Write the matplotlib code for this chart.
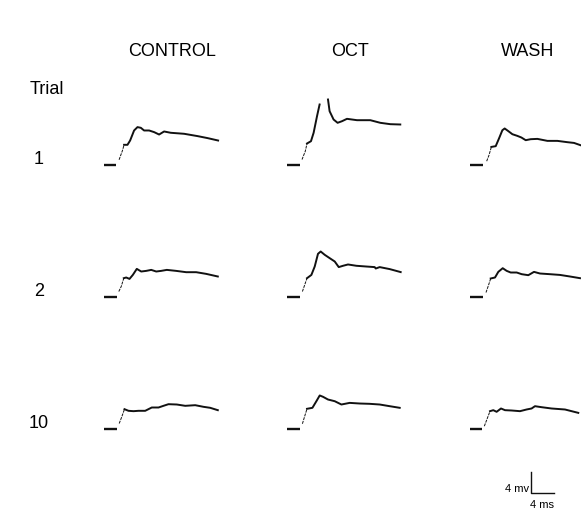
import numpy as np
import matplotlib
matplotlib.use("Agg")
import matplotlib.pyplot as plt

nan = np.nan

# conditions and trials
conditions = ["CONTROL", "OCT", "WASH"]
trials = ["1", "2", "10"]

# traces: time (ms) from start of sweep, voltage (mV) above baseline
ctrl1_t = [0, 2.14, 2.71, 3.30, 3.58, 4.17, 4.63, 5.32, 5.91, 6.49, 7.06, 7.93, 8.80, 9.67, 10.54, 11.70, 14.02, 16.35, 18.09, 19.93]
ctrl1_v = [0, 0, 0.90, 2.67, 3.75, 3.75, 4.57, 6.48, 7.12, 6.99, 6.48, 6.48, 6.17, 5.71, 6.29, 6.04, 5.85, 5.41, 5.03, 4.57]

oct1_t = [0, 2.19, 2.61, 3.18, 3.48, 4.17, 4.63, 5.22, 5.67, 6.40, 7.13, 7.41, 8.10, 8.80, 9.57, 10.43, 12.17, 14.49, 16.23, 17.97, 19.70]
oct1_v = [0, 0, 0.95, 2.53, 4.00, 4.44, 6.04, 9.20, 11.43, nan, 12.38, 10.15, 8.57, 7.94, 8.25, 8.70, 8.44, 8.44, 7.94, 7.68, 7.62]

wash1_t = [0, 2.33, 2.90, 3.30, 3.72, 4.47, 5.04, 5.63, 6.03, 6.61, 7.37, 8.24, 8.94, 9.69, 10.56, 11.72, 13.46, 15.20, 16.94, 18.09, 19.37]
wash1_v = [0, 0, 0.63, 1.77, 3.35, 3.49, 4.95, 6.53, 6.86, 6.40, 5.77, 5.45, 5.14, 4.63, 4.82, 4.88, 4.50, 4.50, 4.25, 4.11, 3.62]

ctrl2_t = [0, 2.31, 2.66, 3.08, 3.53, 3.95, 4.52, 5.10, 5.79, 6.56, 7.43, 8.30, 9.17, 10.03, 11.01, 12.64, 14.38, 16.12, 17.86, 19.88]
ctrl2_v = [0, 0, 0.95, 1.90, 3.49, 3.62, 3.35, 4.11, 5.26, 4.76, 4.88, 5.07, 4.76, 4.88, 5.07, 4.88, 4.63, 4.63, 4.31, 3.81]

oct2_t = [0, 2.33, 2.68, 3.08, 3.48, 4.24, 4.82, 5.39, 5.86, 6.56, 7.43, 8.30, 9.00, 9.74, 10.61, 12.07, 13.81, 15.25, 15.43, 16.12, 17.86, 19.77]
oct2_v = [0, 0, 0.95, 2.22, 3.49, 4.11, 5.71, 8.13, 8.57, 7.94, 7.30, 6.67, 5.60, 5.85, 6.10, 5.85, 5.71, 5.60, 5.33, 5.60, 5.22, 4.65]

wash2_t = [0, 2.31, 2.78, 3.18, 3.60, 4.35, 4.92, 5.69, 6.38, 7.08, 8.12, 8.99, 10.14, 11.13, 12.17, 13.91, 15.65, 17.39, 19.13]
wash2_v = [0, 0, 0.76, 2.02, 3.43, 3.62, 4.69, 5.39, 4.88, 4.57, 4.57, 4.25, 4.06, 4.69, 4.38, 4.25, 4.11, 3.81, 3.49]

ctrl10_t = [0, 2.31, 2.73, 3.18, 3.65, 4.35, 5.22, 6.09, 7.25, 8.40, 9.57, 10.43, 11.30, 12.75, 14.21, 15.95, 17.39, 18.56, 19.88]
ctrl10_v = [0, 0, 0.95, 2.23, 3.68, 3.37, 3.30, 3.37, 3.37, 4.00, 4.00, 4.32, 4.63, 4.57, 4.32, 4.44, 4.13, 3.94, 3.49]

oct10_t = [0, 2.21, 2.68, 3.08, 3.48, 4.42, 5.11, 5.69, 6.26, 7.13, 8.30, 9.46, 10.90, 12.64, 14.38, 16.12, 17.86, 19.60]
oct10_v = [0, 0, 0.90, 2.35, 3.75, 3.94, 5.20, 6.29, 6.04, 5.52, 5.20, 4.57, 4.88, 4.76, 4.70, 4.57, 4.25, 3.94]

wash10_t = [0, 2.14, 2.49, 2.89, 3.48, 4.05, 4.63, 5.39, 6.09, 7.23, 8.70, 9.84, 10.71, 11.30, 12.45, 14.19, 16.52, 18.83]
wash10_v = [0, 0, 0.44, 1.59, 3.30, 3.49, 3.18, 3.81, 3.49, 3.43, 3.30, 3.62, 3.81, 4.25, 4.06, 3.81, 3.62, 2.98]

# scale bar size
bar_mv = 4
bar_ms = 4

traces = [
    [(ctrl1_t, ctrl1_v), (oct1_t, oct1_v), (wash1_t, wash1_v)],
    [(ctrl2_t, ctrl2_v), (oct2_t, oct2_v), (wash2_t, wash2_v)],
    [(ctrl10_t, ctrl10_v), (oct10_t, oct10_v), (wash10_t, wash10_v)],
]

plt.rcParams['font.family'] = ['Liberation Sans', 'DejaVu Sans']

W, H = 581, 510
fig = plt.figure(figsize=(W / 100, H / 100), dpi=100)

px_ms = 23 / 4.0   # pixels per ms
px_mv = 21 / 4.0   # pixels per mV
col_x = [103.5, 287.0, 470.0]
row_y = [165.5, 297.5, 429.5]
XMIN, XMAX = -1, 24
YMIN, YMAX = -4, 16
ink = '#111111'


def panel_axes(x0, y0):
    # axes placed so that t=0, v=0 falls on pixel (x0, y0)
    left = x0 + XMIN * px_ms
    bottom = y0 - YMIN * px_mv
    w = (XMAX - XMIN) * px_ms
    h = (YMAX - YMIN) * px_mv
    ax = fig.add_axes([left / W, 1 - bottom / H, w / W, h / H])
    ax.set_xlim(XMIN, XMAX)
    ax.set_ylim(YMIN, YMAX)
    ax.axis('off')
    return ax


for r in range(3):
    for c in range(3):
        t = np.array(traces[r][c][0])
        v = np.array(traces[r][c][1])
        ax = panel_axes(col_x[c], row_y[r])
        ax.plot(t[:2], v[:2], color=ink, lw=1.7, solid_capstyle='butt')
        ax.plot(t[2:5], v[2:5], color=ink, lw=0.7, ls=(0, (3, 1)))
        ax.plot(t[4:], v[4:], color=ink, lw=1.4, solid_joinstyle='round')

# column headers and trial labels
head_x = [172, 350, 528]
for name, x in zip(conditions, head_x):
    fig.text(x / W, 1 - 52 / H, name, ha='center', va='center', fontsize=13)
fig.text(47 / W, 1 - 89 / H, "Trial", ha='center', va='center', fontsize=13)
for lab, y in zip(trials, row_y):
    fig.text(39 / W, 1 - (y - 6) / H, lab, ha='center', va='center', fontsize=13)

# scale bar
sb = panel_axes(531, 494)
sb.plot([0, 0, bar_ms], [bar_mv, 0, 0], color=ink, lw=1.0)
sb.text(-0.3, 0, "%d mv" % bar_mv, ha='right', va='bottom', fontsize=8)
sb.text(bar_ms / 2, -1.2, "%d ms" % bar_ms, ha='center', va='top', fontsize=8)

fig.savefig('out.png', dpi=100)
